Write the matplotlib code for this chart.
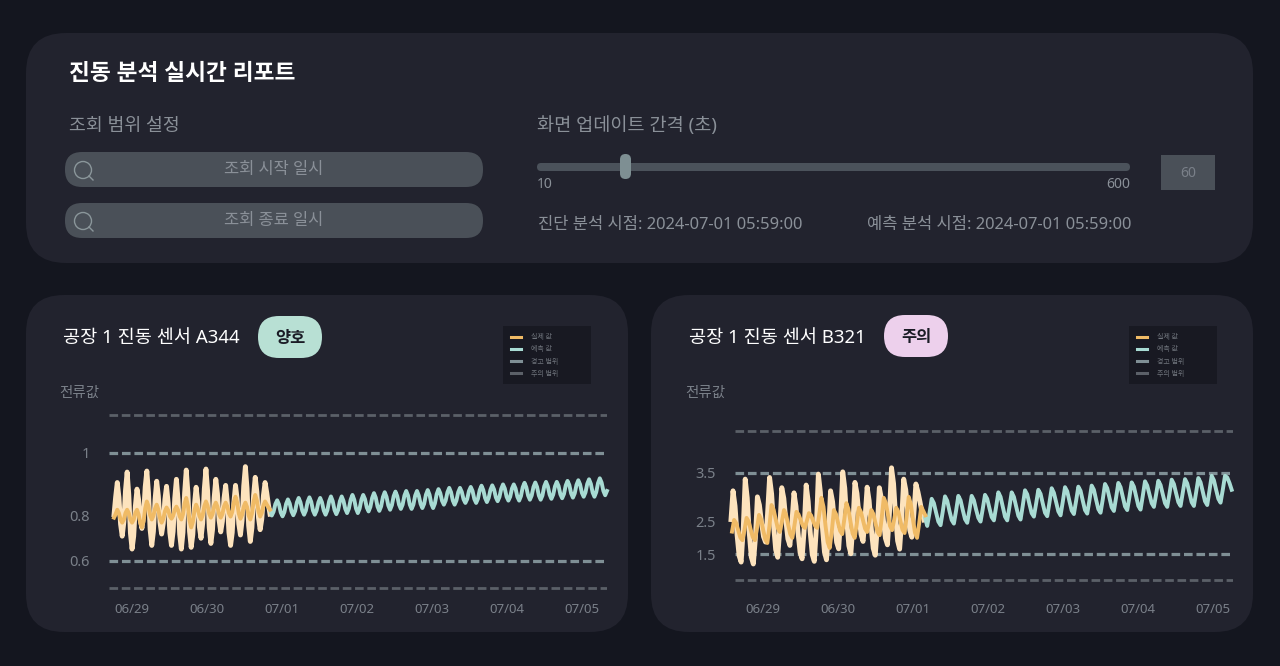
import numpy as np
import matplotlib
matplotlib.use("Agg")
import matplotlib.pyplot as plt
from matplotlib.lines import Line2D
from matplotlib.patches import FancyBboxPatch, Rectangle, Circle

plt.rcParams['font.family'] = ['Noto Sans', 'Noto Sans CJK KR', 'DejaVu Sans']

# values
days = [0, 1, 2, 3, 4, 5, 6]
day_labels = ["06/29", "06/30", "07/01", "07/02", "07/03", "07/04", "07/05"]
legend_labels = ["실제 값", "예측 값", "경고 범위", "주의 범위"]

a_ticks = [0.6, 0.8, 1]
a_tick_labels = ["0.6", "0.8", "1"]
a_warn = [1, 0.6]
a_caution = [1.097, 0.421]
b_ticks = [1.5, 2.5, 3.5]
b_tick_labels = ["1.5", "2.5", "3.5"]
b_warn = [3.5, 1.5]
b_caution = [4.17, -0.98]

a_raw = [.803,.865,
    .912,.864,.767,.718,.775,.887,
    .944,.873,.731,.66,.718,.833,
    .891,.856,.785,.75,.799,.898,
    .947,.88,.745,.677,.737,.856,
    .916,.869,.774,.727,.77,.857,
    .90,.844,.733,.677,.738,.861,
    .922,.856,.726,.66,.733,.878,
    .95,.88,.738,.668,.725,.84,
    .897,.85,.756,.709,.77,.892,
    .953,.886,.753,.686,.745,.863,
    .922,.876,.782,.736,.778,.861,
    .903,.847,.733,.677,.733,.847,
    .903,.858,.768,.723,.782,.901,
    .96,.894,.761,.695,.753,.87,
    .928,.882,.791,.745,.787,.87,
    .912,.88,.84,.805]
a_actual = [.792,.806,
    .821,.809,.785,.773,.785,.809,
    .821,.809,.785,.773,.785,.809,
    .821,.804,.771,.754,.778,.826,
    .85,.834,.801,.785,.799,.825,
    .839,.822,.79,.773,.787,.815,
    .829,.819,.798,.788,.799,.821,
    .832,.82,.797,.785,.804,.843,
    .862,.835,.781,.754,.775,.818,
    .839,.825,.799,.785,.801,.834,
    .85,.835,.806,.792,.805,.833,
    .846,.832,.805,.792,.805,.833,
    .846,.833,.808,.796,.813,.848,
    .866,.846,.807,.788,.802,.832,
    .846,.831,.8,.785,.807,.85,
    .872,.853,.815,.796,.809,.836,
    .85,.84,.83,.821]
a_forecast = [.82,.80,.814,.841,
    .854,.84,.811,.797,.812,.842,
    .857,.843,.815,.801,.816,.847,
    .862,.847,.818,.803,.818,.849,
    .864,.849,.818,.803,.818,.847,
    .862,.847,.818,.803,.819,.851,
    .867,.851,.82,.805,.82,.851,
    .867,.852,.824,.809,.825,.856,
    .872,.856,.825,.809,.825,.856,
    .872,.858,.829,.815,.831,.862,
    .878,.863,.832,.817,.833,.865,
    .881,.866,.836,.821,.837,.868,
    .883,.868,.839,.824,.839,.87,
    .885,.87,.839,.824,.839,.87,
    .885,.87,.842,.827,.842,.873,
    .888,.873,.842,.827,.843,.875,
    .891,.878,.852,.839,.853,.881,
    .895,.881,.853,.839,.853,.881,
    .895,.882,.857,.845,.858,.885,
    .898,.885,.858,.845,.859,.888,
    .902,.888,.862,.848,.862,.889,
    .903,.89,.864,.851,.865,.892,
    .906,.893,.866,.853,.866,.893,
    .906,.893,.866,.853,.868,.897,
    .911,.897,.87,.856,.87,.898,
    .912,.898,.87,.856,.87,.9,
    .914,.9,.873,.859,.873,.9,
    .914,.901,.874,.861,.875,.903,
    .917,.904,.877,.863,.877,.905,
    .919,.906,.879,.866,.88,.908,
    .922,.908,.88,.866,.881,.91,
    .925,.912,.885,.871,.885]

b_raw = [2.55,
    3.17,2.86,2.15,1.43,1.12,2.26,
    3.39,3.03,2.2,1.37,1.01,2.03,
    3.05,2.88,2.49,2.1,1.93,2.68,
    3.42,3.11,2.39,1.67,1.36,2.3,
    3.23,3.02,2.53,2.03,1.82,2.48,
    3.13,2.85,2.21,1.57,1.29,2.29,
    3.28,2.96,2.22,1.48,1.16,2.32,
    3.48,3.14,2.36,1.58,1.24,2.2,
    3.17,2.95,2.44,1.92,1.70,2.61,
    3.52,3.22,2.52,1.81,1.51,2.42,
    3.33,3.12,2.64,2.16,1.95,2.6,
    3.24,2.97,2.35,1.72,1.45,2.34,
    3.23,3.02,2.54,2.05,1.84,2.72,
    3.59,3.31,2.64,1.97,1.69,2.54,
    3.39,3.19,2.74,2.28,2.08,2.69,
    3.30,3.15,2.95,2.72,2.54]
b_actual = [2.24,
    2.54,2.46,2.27,2.07,1.99,2.29,
    2.59,2.5,2.29,2.08,1.99,2.33,
    2.66,2.55,2.28,2.01,1.90,2.39,
    2.88,2.78,2.56,2.33,2.23,2.5,
    2.77,2.66,2.42,2.17,2.06,2.4,
    2.73,2.67,2.54,2.40,2.34,2.52,
    2.70,2.65,2.52,2.39,2.34,2.69,
    3.03,2.84,2.38,1.93,1.73,2.25,
    2.77,2.68,2.47,2.26,2.17,2.55,
    2.92,2.79,2.49,2.19,2.06,2.44,
    2.82,2.73,2.53,2.32,2.23,2.5,
    2.77,2.68,2.46,2.23,2.14,2.59,
    3.03,2.92,2.66,2.39,2.28,2.55,
    2.82,2.73,2.51,2.29,2.20,2.63,
    3.05,2.9,2.56,2.21,2.06,2.45,
    2.84,2.75,2.65]
b_forecast = [2.59,2.39,2.7,
    3.01,2.92,2.71,2.5,2.41,2.74,
    3.06,2.97,2.75,2.54,2.45,2.76,
    3.07,2.98,2.77,2.56,2.47,2.77,
    3.07,2.98,2.78,2.59,2.50,2.8,
    3.09,3.01,2.81,2.61,2.53,2.84,
    3.14,3.05,2.84,2.62,2.53,2.84,
    3.14,3.05,2.85,2.64,2.55,2.87,
    3.18,3.1,2.9,2.70,2.62,2.91,
    3.19,3.11,2.91,2.71,2.63,2.93,
    3.22,3.13,2.94,2.74,2.65,2.95,
    3.24,3.16,2.96,2.76,2.68,2.97,
    3.25,3.17,2.97,2.77,2.69,2.98,
    3.27,3.19,2.99,2.79,2.71,3.0,
    3.30,3.22,3.03,2.83,2.75,3.04,
    3.32,3.24,3.05,2.85,2.77,3.05,
    3.33,3.25,3.06,2.86,2.78,3.07,
    3.35,3.27,3.1,2.92,2.84,3.1,
    3.36,3.28,3.1,2.92,2.84,3.11,
    3.38,3.3,3.12,2.94,2.86,3.13,
    3.39,3.31,3.13,2.94,2.86,3.14,
    3.41,3.33,3.15,2.96,2.88,3.17,
    3.45,3.37,3.19,3.01,2.93,3.19,
    3.45,3.42,3.32,3.19]

BG = "#14161f"
PANEL = "#22232e"
FIELD = "#4a5058"
MUTED = "#8a9098"
TICK = "#7a8089"
WARN = "#7f8f95"
CAUTION = "#5b6068"
RAW = "#fde3bd"
ACTUAL = "#f0bb66"
FORECAST = "#a8dbd3"

W, H = 1280, 666
fig = plt.figure(figsize=(W / 100, H / 100), dpi=100, facecolor=BG)

# full figure layer in pixel coordinates for the cards and controls
ui = fig.add_axes([0, 0, 1, 1], zorder=0)
ui.set_xlim(0, W)
ui.set_ylim(H, 0)
ui.axis("off")


def rbox(x0, y0, x1, y1, r, color):
    ui.add_patch(FancyBboxPatch((x0, y0), x1 - x0, y1 - y0,
                                boxstyle="round,pad=0,rounding_size=%g" % r,
                                fc=color, ec="none"))


# y is the visual middle of the text, baseline sits about 0.36 em below it
def label(x, y, s, px, color=MUTED, ha="left", weight="normal"):
    ui.text(x, y + 0.36 * px, s, fontsize=px * 0.72, color=color, ha=ha, va="baseline",
            fontweight=weight)


rbox(26, 33, 1253, 263, 40, PANEL)
rbox(26, 295, 628, 632, 38, PANEL)
rbox(651, 295, 1253, 632, 38, PANEL)

label(69, 72, "진동 분석 실시간 리포트", 22.7, "white", weight="bold")
label(69, 124, "조회 범위 설정", 18.3)
label(537, 124, "화면 업데이트 간격 (초)", 18.6)

for y0, s in [(152, "조회 시작 일시"), (203, "조회 종료 일시")]:
    rbox(65, y0, 483, y0 + 35, 17, FIELD)
    label(274, y0 + 16, s, 16.5, ha="center")
    ui.add_patch(Circle((83, y0 + 18), 8.5, fc="none", ec="#8a969a", lw=1))
    ui.plot([89, 93], [y0 + 24, y0 + 28], color="#8a969a", lw=1)

rbox(537, 163, 1130, 171, 4, "#4b525b")
rbox(620, 154, 631, 179, 5.5, "#7e8f93")
label(537, 183, "10", 14)
label(1130, 183, "600", 14, ha="right")
ui.add_patch(Rectangle((1161, 155), 54, 35, fc=FIELD, ec="none"))
label(1188, 172, "60", 14, TICK, ha="center")
label(538, 223, "진단 분석 시점: 2024-07-01 05:59:00", 16.55)
label(867, 223, "예측 분석 시점: 2024-07-01 05:59:00", 16.55)

label(63, 336, "공장 1 진동 센서 A344", 18.6, "white")
label(689, 336, "공장 1 진동 센서 B321", 18.6, "white")
rbox(258, 316, 322, 358, 21, "#b8e0d4")
rbox(884, 315, 948, 357, 21, "#edd0ec")
label(290, 337, "양호", 16.5, "#1b1c26", ha="center", weight="bold")
label(916, 336, "주의", 16.5, "#1b1c26", ha="center", weight="bold")
label(59, 392, "전류값", 14.5, TICK)
label(685, 392, "전류값", 14.5, TICK)
ui.add_patch(Rectangle((503, 326), 88, 58, fc="#181922", ec="none"))
ui.add_patch(Rectangle((1129, 326), 88, 58, fc="#181922", ec="none"))


def draw_chart(x0, x_zero, power, ylim, ticks, tick_labels, warn, caution,
               raw, actual, forecast, raw_days, actual_days, forecast_days, legend_x):
    ax = fig.add_axes([x0 / W, 1 - 600 / H, 498 / W, 200 / H], zorder=1)
    ax.patch.set_alpha(0)

    def fwd(v):
        return np.sign(v) * np.abs(v) ** power

    def inv(v):
        return np.sign(v) * np.abs(v) ** (1 / power)

    ax.set_yscale("function", functions=(fwd, inv))
    ax.set_xlim((x0 - x_zero) / 75, (x0 + 498 - x_zero) / 75)
    ax.set_ylim(*ylim)

    for v in caution:
        ax.axhline(v, color=CAUTION, lw=2, ls=(0, (3.1, 1.32)), zorder=1)
    for v in warn:
        ax.axhline(v, color=WARN, lw=2.3, ls=(0, (2.7, 1.2)), zorder=1)

    ax.plot(np.linspace(*raw_days, len(raw)), raw, color=RAW, lw=3.5,
            solid_joinstyle="round", clip_on=False, zorder=2)
    ax.plot(np.linspace(*actual_days, len(actual)), actual, color=ACTUAL, lw=2.8,
            solid_joinstyle="round", clip_on=False, zorder=4)
    ax.plot(np.linspace(*forecast_days, len(forecast)), forecast, color=FORECAST, lw=2.8,
            solid_joinstyle="round", clip_on=False, zorder=3)

    ax.set_xticks(days)
    ax.set_xticklabels(day_labels)
    ax.set_yticks(ticks)
    ax.set_yticklabels(tick_labels)
    ax.minorticks_off()
    ax.tick_params(axis="x", length=0, pad=2.5, labelsize=9.5, labelcolor=TICK)
    ax.tick_params(axis="y", length=0, pad=13.7, labelsize=10.5, labelcolor=TICK)
    for s in ax.spines.values():
        s.set_visible(False)

    handles = [Line2D([], [], color=c, lw=2.2) for c in (ACTUAL, FORECAST, WARN, CAUTION)]
    ax.legend(handles, legend_labels, loc="upper left",
              bbox_to_anchor=(legend_x / W, 1 - 334 / H),
              bbox_transform=fig.transFigure, frameon=False, fontsize=5,
              labelcolor="#6f747c", handlelength=1.44, handletextpad=1.44,
              labelspacing=0.76, borderpad=0, borderaxespad=0)


draw_chart(109, 132, 2.3, (0.2935, 1.134), a_ticks, a_tick_labels, a_warn, a_caution,
           a_raw, a_actual, a_forecast, (-0.24, 1.84), (-0.24, 1.84), (1.84, 6.333), 511)
draw_chart(735, 763, 2, (-1.85, 4.61), b_ticks, b_tick_labels, b_warn, b_caution,
           b_raw, b_actual, b_forecast, (-0.427, 2.147), (-0.413, 2.165), (2.16, 6.249), 1137)

fig.savefig("out.png", dpi=100, facecolor=BG)
